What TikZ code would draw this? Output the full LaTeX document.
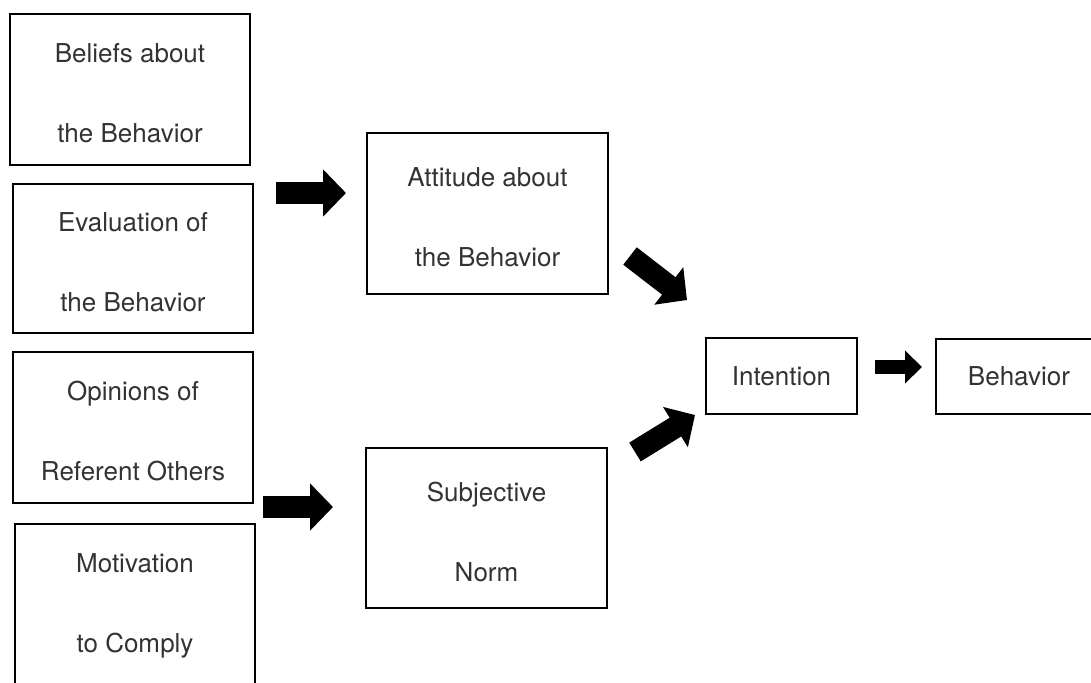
\documentclass[tikz,border=0pt]{standalone}
\usepackage{fontspec}
\setmainfont{TeX Gyre Heros}
\usetikzlibrary{arrows.meta}
\newcommand{\topstrut}{\rule{0pt}{13.5pt}}
\begin{document}
\begin{tikzpicture}[x=0.5pt,y=-0.5pt,
  txt/.style={font=\fontsize{13pt}{40pt}\selectfont, text=black!80, align=center, inner sep=0pt},
  box/.style={txt, draw=black, line width=1.4pt},
  bigarrow/.style={line width=11pt, -{Triangle[length=11.5pt,width=23pt]}},
  smallarrow/.style={line width=7pt, -{Triangle[length=8.5pt,width=16pt]}}]
\useasboundingbox (0,0) rectangle (1091,682);
\clip (0,0) rectangle (1091,682);
% left column
\node[box, minimum width=120pt, minimum height=75.5pt] (beliefs) at (130,89.5) {\topstrut Beliefs about\\the Behavior};
\node[box, minimum width=120pt, minimum height=74.5pt] (eval) at (133,258.5) {\topstrut Evaluation of\\the Behavior};
\node[box, minimum width=120pt, minimum height=75.5pt] (opin) at (133,427.5) {\topstrut Opinions of\\Referent Others};
\node[box, minimum width=120pt, minimum height=85pt] (motiv) at (135,609) {};
\node[txt] (motivtext) at (135,602) {\topstrut Motivation\\to Comply};
% middle column
\node[box, minimum width=120.5pt, minimum height=80.5pt] (attitude) at (487.5,213.5) {\topstrut Attitude about\\the Behavior};
\node[box, minimum width=120.5pt, minimum height=80pt] (subj) at (486.5,528) {\topstrut Subjective\\Norm};
% right
\node[box, minimum width=75.5pt, minimum height=38pt] (intention) at (781.5,376) {Intention};
\node[box, minimum width=83pt, minimum height=37.5pt] (behavior) at (1019,376.5) {Behavior};
% arrow end points
\coordinate (a1s) at (276,193);
\coordinate (a1e) at (346,193);
\coordinate (a2s) at (263,507);
\coordinate (a2e) at (333,507);
\coordinate (a3s) at (630,256);
\coordinate (a3e) at (687,300);
\coordinate (a4s) at (635,452);
\coordinate (a4e) at (695,415);
\coordinate (a5s) at (875,367);
\coordinate (a5e) at (922,367);
\draw[bigarrow] (a1s) -- (a1e);
\draw[bigarrow] (a2s) -- (a2e);
\draw[bigarrow] (a3s) -- (a3e);
\draw[bigarrow] (a4s) -- (a4e);
\draw[smallarrow] (a5s) -- (a5e);
\end{tikzpicture}
\end{document}
